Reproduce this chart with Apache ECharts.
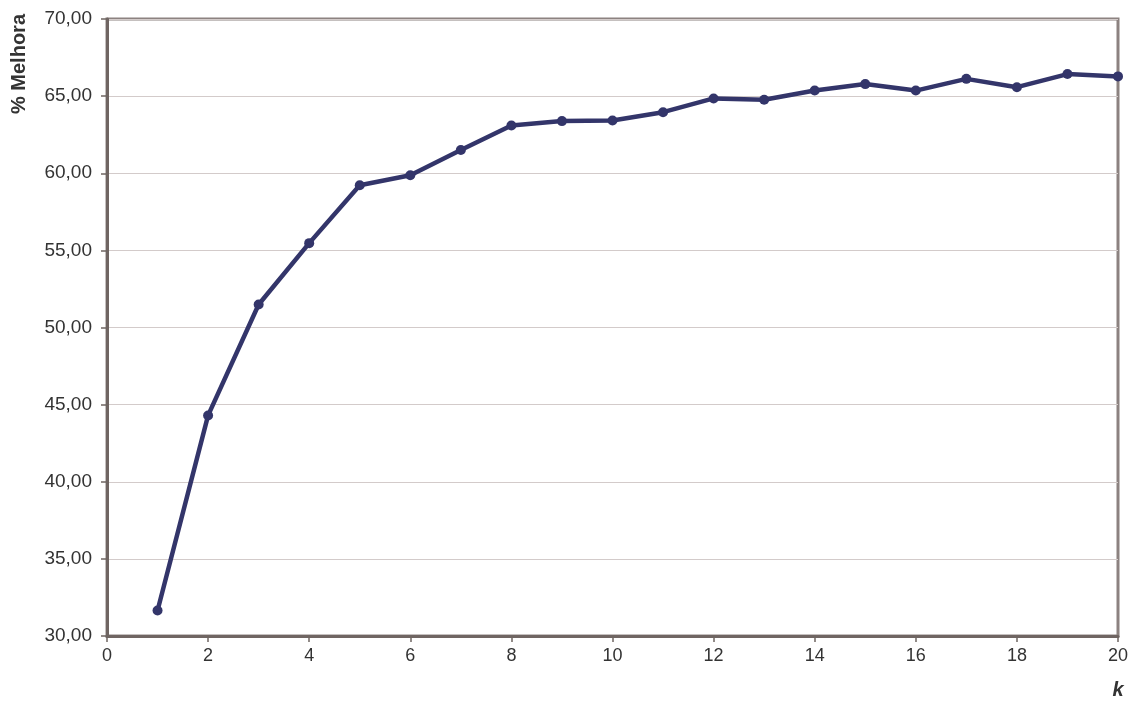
<!DOCTYPE html>
<html>
<head>
<meta charset="utf-8">
<script src="https://cdn.jsdelivr.net/npm/echarts@6/dist/echarts.min.js"></script>
<style>html,body{margin:0;padding:0;background:#fff;}#c{width:1140px;height:702px;}</style>
</head>
<body>
<div id="c"></div>
<script>
const kValues = [1,2,3,4,5,6,7,8,9,10,11,12,13,14,15,16,17,18,19,20];
const melhora = [31.65,44.30,51.49,55.47,59.22,59.87,61.51,63.10,63.38,63.42,63.96,64.85,64.76,65.37,65.78,65.36,66.12,65.58,66.43,66.28];
const yAxisTitle = '% Melhora';
const xAxisTitle = 'k';

const chart = echarts.init(document.getElementById('c'));
const font = 'Liberation Sans, Arial, sans-serif';
chart.setOption({
  animation: false,
  grid: {left: 107, right: 22, top: 19, bottom: 66, show: true, borderColor: '#8c8280', borderWidth: 3, backgroundColor: '#fff'},
  xAxis: {
    type: 'value', min: 0, max: 20, interval: 2,
    axisLine: {show: true, onZero: false, lineStyle: {color: '#6f6562', width: 3}},
    axisTick: {show: true, length: 6, lineStyle: {color: '#6f6562', width: 1.5}},
    axisLabel: {color: '#333', fontSize: 18, fontFamily: font, margin: 11},
    splitLine: {show: false}
  },
  yAxis: {
    type: 'value', min: 30, max: 70, interval: 5,
    axisLine: {show: true, lineStyle: {color: '#6f6562', width: 3}},
    axisTick: {show: true, length: 6, lineStyle: {color: '#6f6562', width: 1.5}},
    axisLabel: {color: '#333', fontSize: 19, fontFamily: font, margin: 15,
      formatter: v => v.toFixed(2).replace('.', ',')},
    splitLine: {show: true, lineStyle: {color: '#d3cbca', width: 1.2}}
  },
  graphic: [
    {type: 'text', x: 19, y: 64, rotation: Math.PI/2,
      style: {text: yAxisTitle, font: 'bold 20px ' + font, fill: '#333', align: 'center', verticalAlign: 'middle'}},
    {type: 'text', x: 1118, y: 690,
      style: {text: xAxisTitle, font: 'italic bold 20px ' + font, fill: '#333', align: 'center', verticalAlign: 'middle'}}
  ],
  series: [{
    type: 'line',
    data: kValues.map((k, i) => [k, melhora[i]]),
    lineStyle: {color: '#33356a', width: 4.5},
    itemStyle: {color: '#33356a'},
    symbol: 'circle', symbolSize: 10,
    clip: false
  }]
});
</script>
</body>
</html>
